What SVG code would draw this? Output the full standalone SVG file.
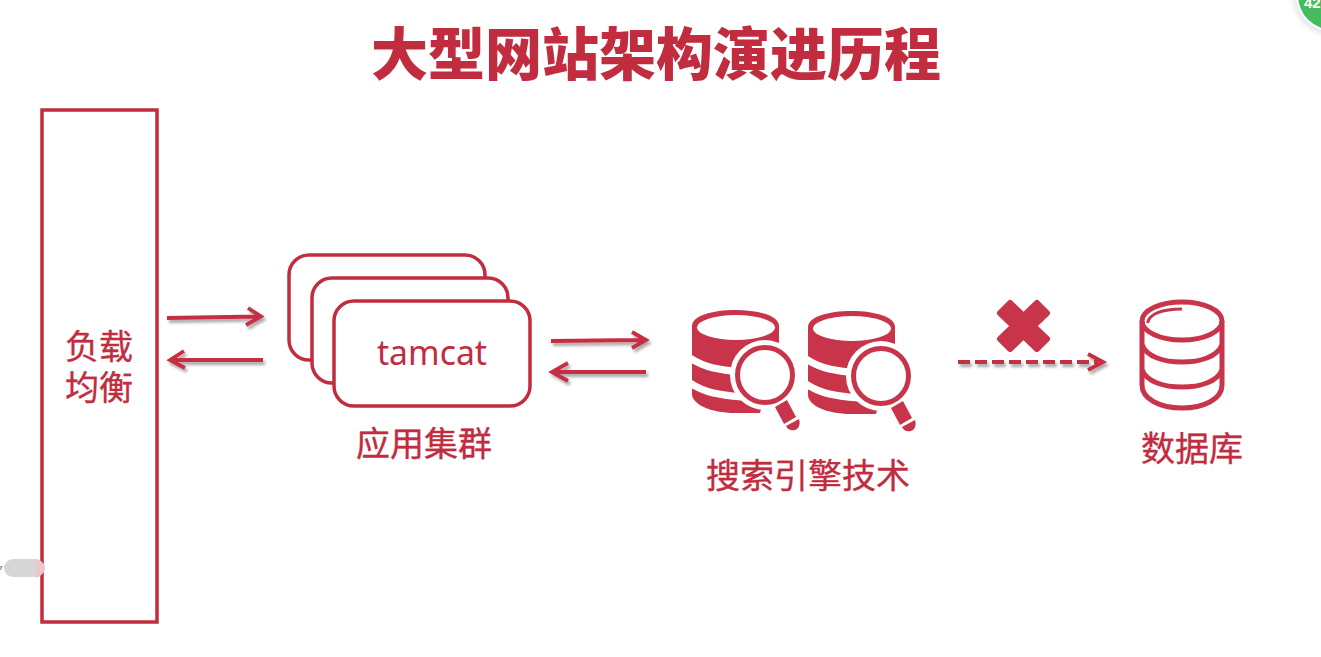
<svg xmlns="http://www.w3.org/2000/svg" width="1321" height="657" viewBox="0 0 1321 657">
<defs>
<style>
.t{font-family:"Noto Sans CJK SC","Noto Sans",sans-serif;fill:#c12c3e;text-anchor:middle}
.l{font-size:34px;stroke:#c12c3e;stroke-width:.35}
.box{fill:#fff;stroke:#c12c3e;stroke-width:3.5}
.a{fill:none;stroke:#c62f42;stroke-width:3.8}
.s{fill:#c8354a}
</style>
<filter id="sh" x="-20%" y="-100%" width="140%" height="300%"><feGaussianBlur in="SourceAlpha" stdDeviation="1.5"/><feOffset dx="2" dy="3"/><feComponentTransfer><feFuncA type="linear" slope="0.35"/></feComponentTransfer><feMerge><feMergeNode/><feMergeNode in="SourceGraphic"/></feMerge></filter>
<filter id="b"><feGaussianBlur stdDeviation="3"/></filter>
<g id="dbs">
<path class="s" d="M692 326C692 316 712 310 735.500 310C759 310 779 316 779 326V345L760 413L735 413C710 413 692 404 692 394Z"/>
<ellipse cx="736" cy="327.500" rx="39" ry="12.500" fill="#fff"/>
<path d="M690 358C705 368 720 370 742 372M690 383C705 393 720 395 742 397" fill="none" stroke="#fff" stroke-width="7"/>
<circle cx="765" cy="375" r="35" fill="#fff"/>
<circle cx="765" cy="375" r="27.500" fill="#fff" stroke="#c8354a" stroke-width="5"/>
<path class="s" d="M775 407L787 400L796 417L784 424Z"/>
<path class="s" d="M786 426L799 419C801 425 798 429 795 430C791 431 788 430 786 426Z"/>
</g>
</defs>
<rect width="1321" height="657" fill="#fff"/>
<g id="badge"><circle cx="1333" cy="-4" r="39" fill="#999" opacity=".3" filter="url(#b)"/><circle cx="1333" cy="-5" r="37" fill="#fff"/><circle cx="1333" cy="-5" r="35" fill="#46bd5d"/><text x="1304" y="8" font-family="'Liberation Sans',sans-serif" font-size="15" font-weight="700" fill="#fff">42</text></g>
<text class="t" x="656" y="75" font-size="57" font-weight="900">大型网站架构演进历程</text>
<g id="lb"><rect class="box" x="42" y="110" width="115" height="512"/><text class="t l" x="99"><tspan x="99" y="359">负载</tspan><tspan x="99" y="400">均衡</tspan></text></g>
<g id="scroll"><rect x="4" y="559" width="40" height="18" rx="9" fill="#d6d6d6"/><path d="M36 559C41 560 45 564 45 568C45 572 41 576 36 578Z" fill="#eac7cd"/><text x="0" y="570" font-family="'Liberation Sans',sans-serif" font-size="8" fill="#444">r</text></g>
<g id="cluster">
<rect class="box" x="289" y="255" width="196" height="105" rx="20"/>
<rect class="box" x="312" y="278" width="196" height="105" rx="20"/>
<rect class="box" x="334" y="301" width="196" height="105" rx="20"/>
<text x="432" y="365" font-family="'Noto Sans',sans-serif" font-size="33.800" fill="#c12c3e" text-anchor="middle">tamcat</text>
<text class="t l" x="424" y="456">应用集群</text>
</g>
<g id="connectors">
<g filter="url(#sh)">
<path class="a" d="M167 318L258 316.500M248 308L261 316.500L246 325"/>
<path class="a" d="M263 360L172 360M184 351L170 360L185 368"/>
<path class="a" d="M551 341L642 340M632 332L646 340L632 348"/>
<path class="a" d="M646 372L554 372M568 363L552 372L568 381"/>
<path class="a" d="M958 362L1098 362" stroke-dasharray="12 5"/>
<path class="a" d="M1088 354L1103 362L1088 370"/>
</g>
</g>
<g id="search"><use href="#dbs"/><use href="#dbs" x="116" y="1"/><text class="t l" x="808" y="488">搜索引擎技术</text></g>
<path id="x" d="M1010 303L1023.500 316L1037 303L1047 313L1033.500 326L1047 339L1037 349L1023.500 336L1010 349L1000 339L1013.500 326L1000 313Z" fill="#c8354a" stroke="#c8354a" stroke-width="6" stroke-linejoin="round"/>
<g id="db" fill="none" stroke="#c8354a" stroke-width="5">
<ellipse cx="1182" cy="321" rx="40" ry="19"/>
<path d="M1142 321V385C1142 399 1160 408 1182 408C1204 408 1222 399 1222 385V321"/>
<path d="M1142 345C1147 357 1164 362 1182 362C1200 362 1217 357 1222 345"/>
<path d="M1142 370C1147 382 1164 387 1182 387C1200 387 1217 382 1222 370"/>
<path d="M1147.500 323C1149 314 1162 309 1182 309" stroke-width="3"/>
</g>
<text class="t l" x="1192" y="461">数据库</text>
</svg>
